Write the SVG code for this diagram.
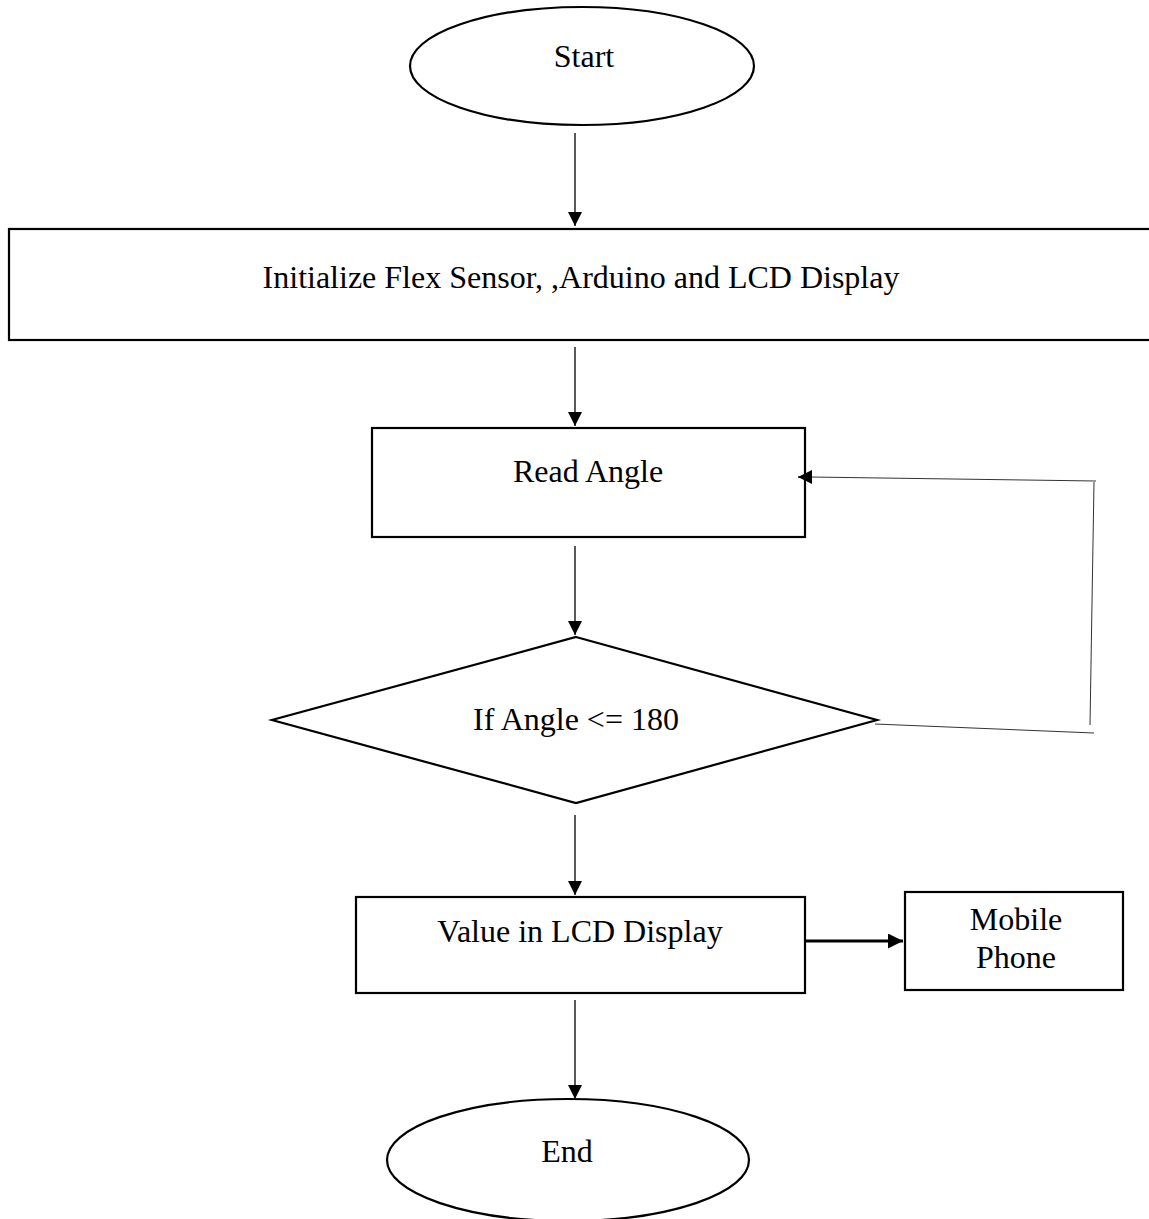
<svg xmlns="http://www.w3.org/2000/svg" width="1149" height="1219" viewBox="0 0 1149 1219">
  <style>
    .shape { fill: #fff; stroke: #000; stroke-width: 2.2; }
    .label { font-family: "Liberation Serif", "Times New Roman", serif; font-size: 32px; fill: #000; text-anchor: middle; }
    .link { fill: none; stroke: #000; stroke-width: 1.3; }
    .thin { fill: none; stroke: #333; stroke-width: 1; }
    .bold { fill: none; stroke: #000; stroke-width: 3; }
  </style>
  <defs>
    <marker id="head" viewBox="0 0 10 10" refX="10" refY="5" markerWidth="14" markerHeight="14" markerUnits="userSpaceOnUse" orient="auto">
      <path d="M0,0 L10,5 L0,10 z" fill="#000"/>
    </marker>
    <marker id="headBold" viewBox="0 0 10 10" refX="10" refY="5" markerWidth="5" markerHeight="5" orient="auto">
      <path d="M0,0 L10,5 L0,10 z" fill="#000"/>
    </marker>
  </defs>

  <g id="start">
    <ellipse class="shape" cx="582" cy="66" rx="172" ry="59"/>
    <text class="label" x="584" y="67">Start</text>
  </g>

  <g id="init">
    <rect class="shape" x="9" y="229" width="1150" height="111"/>
    <text class="label" x="581" y="288">Initialize Flex Sensor, ,Arduino and LCD Display</text>
  </g>

  <g id="read">
    <rect class="shape" x="372" y="428" width="433" height="109"/>
    <text class="label" x="588" y="482">Read Angle</text>
  </g>

  <g id="decision">
    <polygon class="shape" points="576,637 877,720 576,803 272,720"/>
    <text class="label" x="576" y="730">If Angle &lt;= 180</text>
  </g>

  <g id="lcd">
    <rect class="shape" x="356" y="897" width="449" height="96"/>
    <text class="label" x="580" y="942">Value in LCD Display</text>
  </g>

  <g id="mobile">
    <rect class="shape" x="905" y="892" width="218" height="98"/>
    <text class="label" x="1016" y="930">Mobile</text>
    <text class="label" x="1016" y="968">Phone</text>
  </g>

  <g id="end">
    <ellipse class="shape" cx="568" cy="1160" rx="181" ry="61"/>
    <text class="label" x="567" y="1162">End</text>
  </g>

  <g id="connectors">
    <line class="link" x1="575" y1="133" x2="575" y2="226" marker-end="url(#head)"/>
    <line class="link" x1="575" y1="347" x2="575" y2="426" marker-end="url(#head)"/>
    <line class="link" x1="575" y1="546" x2="575" y2="635" marker-end="url(#head)"/>
    <line class="link" x1="575" y1="815" x2="575" y2="895" marker-end="url(#head)"/>
    <line class="link" x1="575" y1="1000" x2="575" y2="1099" marker-end="url(#head)"/>
    <line class="bold" x1="806" y1="941" x2="903" y2="941" marker-end="url(#headBold)"/>
    <polyline class="thin" points="875,724 1094,733"/>
    <line class="thin" x1="1090" y1="725" x2="1094" y2="482"/>
    <line class="thin" x1="1096" y1="481" x2="810" y2="477"/>
    <line class="link" x1="812" y1="477" x2="798" y2="477" marker-end="url(#head)"/>
  </g>
</svg>
